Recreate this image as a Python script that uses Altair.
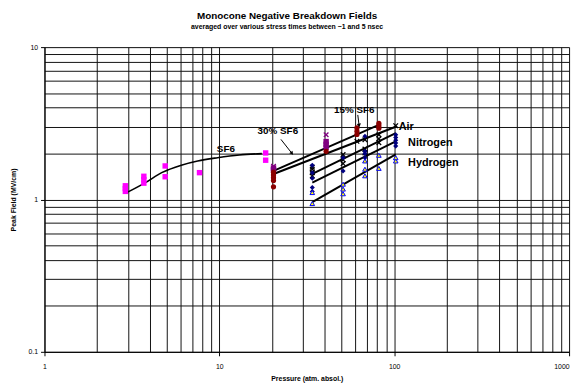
import altair as alt
import pandas as pd

FONT = "Liberation Sans"

# ---- axis grid / label values ----
x_grid = [1, 2, 3, 4, 5, 6, 7, 8, 9, 10, 20, 30, 40, 50, 60, 70, 80, 90,
          100, 200, 300, 400, 500, 600, 700, 800, 900, 1000]
y_grid = [0.1, 0.2, 0.3, 0.4, 0.5, 0.6, 0.7, 0.8, 0.9, 1, 2, 3, 4, 5, 6, 7, 8, 9, 10]

# ---- data (pressure atm, peak field MV/cm) ----
sf6_p = [2.9, 2.9, 2.9, 3.7, 3.7, 3.7, 4.9, 4.9, 7.7, 18.4, 18.4]
sf6_e = [1.13, 1.18, 1.23, 1.28, 1.35, 1.42, 1.41, 1.66, 1.50, 1.81, 2.02]

sf6_curve_p = [2.91, 3.78, 4.68, 6.06, 7.52, 9.75, 13.0, 17.5]
sf6_curve_e = [1.10, 1.29, 1.50, 1.68, 1.79, 1.88, 1.96, 2.00]

sf30_sq_p = [20.4, 20.4, 40.8, 40.8, 40.8]
sf30_sq_e = [1.57, 1.61, 2.20, 2.30, 2.40]
sf30_x_p = [20.4, 40.8]
sf30_x_e = [1.65, 2.66]

sf15_p = [20.4, 20.4, 20.4, 20.4, 20.4, 40.8, 61.2, 61.2, 61.2, 81.7, 81.7, 81.7]
sf15_e = [1.21, 1.33, 1.39, 1.45, 1.51, 2.07, 2.67, 2.80, 2.95, 2.94, 3.05, 3.16]

air_p = [34, 34, 34, 34, 51, 51, 51, 61.2, 68, 68, 68, 81.7, 81.7, 81.7, 102]
air_e = [1.43, 1.50, 1.58, 1.63, 1.72, 1.82, 1.97, 2.41, 2.02, 2.14, 2.47, 2.36, 2.50, 2.66, 3.05]

n2_p = [34, 34, 34, 34, 34, 51, 51, 68, 68, 68, 68, 102, 102, 102, 102, 102]
n2_e = [1.13, 1.20, 1.38, 1.50, 1.68, 1.54, 1.88, 1.88, 2.00, 2.07, 2.60, 2.24, 2.35, 2.45, 2.55, 2.66]

h2_p = [34, 34, 51, 51, 51, 68, 68, 68, 81.7, 81.7, 102, 102]
h2_e = [0.94, 1.11, 1.09, 1.17, 1.26, 1.43, 1.58, 1.79, 1.60, 1.95, 1.79, 1.88]

# power-law fit lines (endpoints)
fit_group = ["a", "a", "b", "b", "air", "air", "n2", "n2", "h2", "h2"]
fit_p = [20.4, 81.7, 20.4, 102, 34, 102, 34, 102, 34, 102]
fit_e = [1.54, 3.09, 1.47, 3.00, 1.47, 2.73, 1.29, 2.41, 0.96, 1.98]

# annotations
lab_text = ["SF6", "30% SF6", "15% SF6"]
lab_p = [10.9, 21.6, 59.1]
lab_e = [2.14, 2.80, 3.88]

lab2_text = ["Air", "Nitrogen", "Hydrogen"]
lab2_p = [106, 120, 120]
lab2_e = [2.97, 2.35, 1.74]

arrow_p = [22.5, 61.9]
arrow_e = [2.48, 3.59]
arrow_p2 = [25.9, 62.9]
arrow_e2 = [2.02, 3.09]
arrow_angle = [142, 172]

# ---- scales / axes ----
xs = alt.Scale(type="log", domain=[1, 1000])
ys = alt.Scale(type="log", domain=[0.1, 10])

GRID = "#111111"

x_axis = alt.Axis(
    values=x_grid, format="~g",
    labelExpr="indexof([1,10,100,1000], datum.value) >= 0 ? datum.label : ''",
    labelOverlap=False, labelFlush=False,
    labelAlign={"condition": {"test": "datum.value == 1000", "value": "right"}, "value": "center"},
    grid=True, gridColor=GRID, gridOpacity=1, gridWidth=1,
    domainColor="#000000", tickColor="#000000", tickSize=4,
    tickOpacity={"condition": {"test": "indexof([1,10,100,1000], datum.value) >= 0", "value": 1}, "value": 0},
    labelFont=FONT, labelFontSize=7, labelColor="#000000", labelPadding=7,
    titleFont=FONT, titleFontSize=7, titleFontWeight="bold", titleColor="#000000", titlePadding=5,
)
y_axis = alt.Axis(
    values=y_grid, format="~g",
    labelExpr="indexof([0.1,1,10], datum.value) >= 0 ? datum.label : ''",
    labelOverlap=False, labelFlush=False,
    grid=True, gridColor=GRID, gridOpacity=1, gridWidth=1,
    domainColor="#000000", tickColor="#000000", tickSize=4,
    tickOpacity={"condition": {"test": "indexof([0.1,1,10], datum.value) >= 0", "value": 1}, "value": 0},
    labelFont=FONT, labelFontSize=7, labelColor="#000000", labelPadding=3,
    titleFont=FONT, titleFontSize=7, titleFontWeight="bold", titleColor="#000000", titlePadding=12,
)


def df(p, e, **extra):
    d = {"p": p, "e": e}
    d.update(extra)
    return pd.DataFrame(d)


def base(data):
    return alt.Chart(data).encode(
        x=alt.X("p:Q", scale=xs, axis=x_axis, title="Pressure (atm. absol.)"),
        y=alt.Y("e:Q", scale=ys, axis=y_axis, title="Peak Field (MV/cm)"),
    )


XPATH = "M-1,-1L1,1M-1,1L1,-1"

layers = [
    base(df(sf6_curve_p, sf6_curve_e)).mark_line(color="#000000", strokeWidth=1.6, interpolate="monotone"),
    base(df(fit_p, fit_e, g=fit_group)).mark_line(color="#000000", strokeWidth=2).encode(detail="g:N"),
    base(df(sf6_p, sf6_e)).mark_point(shape="square", filled=True, color="#FF00FF", size=30, opacity=1),
    base(df(sf30_sq_p, sf30_sq_e)).mark_point(shape="square", filled=True, color="#800080", size=30, opacity=1),
    base(df(sf30_x_p, sf30_x_e)).mark_point(shape=XPATH, filled=False, color="#800080", size=22, strokeWidth=1.3, opacity=1),
    base(df(sf15_p, sf15_e)).mark_point(shape="circle", filled=True, color="#8B0000", size=28, opacity=1),
    base(df(air_p, air_e)).mark_point(shape=XPATH, filled=False, color="#000000", size=22, strokeWidth=1.3, opacity=1),
    base(df(n2_p, n2_e)).mark_point(shape="diamond", filled=True, color="#000080", size=26, opacity=1),
    base(df(h2_p, h2_e)).mark_point(shape="triangle-up", filled=True, fill="#FFFF00", stroke="#0000FF", strokeWidth=1, size=22, opacity=1),
    base(df(arrow_p, arrow_e, p2=arrow_p2, e2=arrow_e2)).mark_rule(color="#000000", strokeWidth=1).encode(
        x2="p2:Q", y2="e2:Q"),
    base(df(arrow_p2, arrow_e2, a=arrow_angle)).mark_point(shape="triangle", filled=True, color="#000000", size=18, opacity=1).encode(
        angle=alt.Angle("a:Q", scale=None)),
    base(df(lab_p, lab_e, t=lab_text)).mark_text(font=FONT, fontSize=10, fontWeight="bold", color="#000000").encode(text="t:N"),
    base(df(lab2_p, lab2_e, t=lab2_text)).mark_text(font=FONT, fontSize=11, fontWeight="bold", color="#000000", align="left").encode(text="t:N"),
]

chart = alt.layer(*layers).properties(
    width=532, height=309,
    title=alt.Title(
        "Monocone Negative Breakdown Fields",
        subtitle="averaged over various stress times between ~1 and 5 nsec",
        font=FONT, fontSize=10, fontWeight="bold", color="#000000",
        subtitleFont=FONT, subtitleFontSize=7, subtitleFontWeight="bold", subtitleColor="#000000",
        subtitlePadding=3, anchor="middle", offset=13, dx=-20,
    ),
    autosize=alt.AutoSizeParams(type="none"),
    padding={"left": 37, "top": 37, "right": 6, "bottom": 34},
).configure_view(stroke=None).configure(background="#ffffff")

chart.save("out.html", embed_options={"renderer": "svg", "actions": False})
